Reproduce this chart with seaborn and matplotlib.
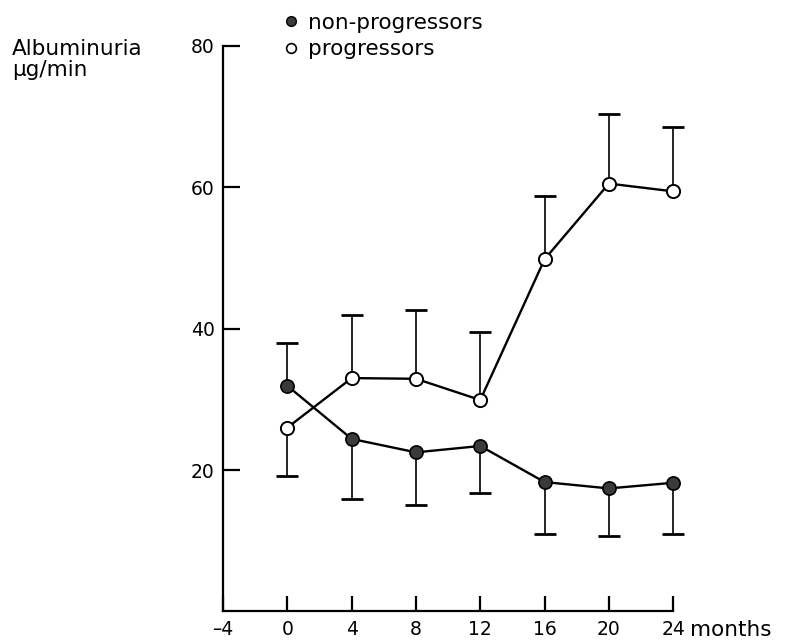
import numpy as np
import pandas as pd
import matplotlib
matplotlib.use("Agg")
import matplotlib.pyplot as plt
from matplotlib.lines import Line2D
import seaborn as sns

# values
months = [0, 4, 8, 12, 16, 20, 24]
nonprog_mean = [31.9, 24.4, 22.5, 23.4, 18.3, 17.4, 18.2]
nonprog_err_up = [6.0, 0, 0, 0, 0, 0, 0]
nonprog_err_down = [0, 8.5, 7.5, 6.6, 7.4, 6.7, 7.2]
prog_mean = [26.0, 33.0, 32.9, 29.9, 49.8, 60.5, 59.4]
prog_err_up = [0, 8.9, 9.7, 9.6, 8.9, 9.9, 9.1]
prog_err_down = [6.9, 0, 0, 0, 0, 0, 0]
xticks = [-4, 0, 4, 8, 12, 16, 20, 24]
yticks = [20, 40, 60, 80]

df = pd.DataFrame({
    "month": months * 2,
    "value": nonprog_mean + prog_mean,
    "group": ["non-progressors"] * 7 + ["progressors"] * 7,
})

sns.set_style("ticks", {"axes.edgecolor": "black", "text.color": "black",
                        "xtick.color": "black", "ytick.color": "black"})
plt.rcParams["font.family"] = ["DejaVu Sans"]
plt.rcParams["font.size"] = 13.5
label_size = 15.5

fig = plt.figure(figsize=(7.94, 6.43), dpi=100)
ax = fig.add_axes([0.281, 0.049, 0.5668, 0.880])

# error bars: stems plus caps, one side only
def draw_err(x, y, up, down):
    x = np.array(x, dtype=float)
    y = np.array(y, dtype=float)
    up = np.array(up, dtype=float)
    down = np.array(down, dtype=float)
    for err, sign in ((up, 1), (down, -1)):
        m = err > 0
        ends = y[m] + sign * err[m]
        ax.vlines(x[m], y[m], ends, color="black", lw=1.2, zorder=1,
                  clip_on=False)
        ax.plot(x[m], ends, ls="none", marker="_", ms=16, mew=2.0,
                color="black", zorder=1, clip_on=False)

draw_err(months, nonprog_mean, nonprog_err_up, nonprog_err_down)
draw_err(months, prog_mean, prog_err_up, prog_err_down)

sub = df[df.group == "non-progressors"]
sns.lineplot(data=sub, x="month", y="value", ax=ax, color="black", lw=1.7,
             marker="o", ms=9.5, mfc="#3a3a3a", mec="black", mew=1.2,
             zorder=3, legend=False, clip_on=False)
sub = df[df.group == "progressors"]
sns.lineplot(data=sub, x="month", y="value", ax=ax, color="black", lw=1.7,
             marker="o", ms=9.5, mfc="white", mec="black", mew=1.4,
             zorder=3, legend=False, clip_on=False)

ax.set_xlim(-4, 24)
ax.set_ylim(0, 80)
ax.set_xticks(xticks)
ax.set_xticklabels([str(t).replace("-", "\u2013") for t in xticks])
ax.set_yticks(yticks)
ax.set_xlabel("")
ax.set_ylabel("")
sns.despine(ax=ax)
for s in ("left", "bottom"):
    ax.spines[s].set_linewidth(1.6)
ax.tick_params(axis="y", direction="in", length=12, width=1.6, pad=6)
ax.tick_params(axis="x", direction="in", length=11, width=1.6, pad=6)

ax.annotate("months", xy=(1, 0), xycoords="axes fraction", xytext=(12, -6),
            textcoords="offset points", ha="left", va="top",
            fontsize=label_size)

fig.text(0.015, 0.924, "Albuminuria", ha="left", va="center",
         fontsize=label_size)
fig.text(0.015, 0.891, "\u00b5g/min", ha="left", va="center",
         fontsize=label_size)

handles = [
    Line2D([], [], ls="none", marker="o", ms=7, mfc="#3a3a3a", mec="black"),
    Line2D([], [], ls="none", marker="o", ms=7, mfc="white", mec="black", mew=1.2),
]
fig.legend(handles, ["non-progressors", "progressors"], loc="upper left",
           bbox_to_anchor=(0.358, 1.0 - 13 / 643), frameon=False,
           handlelength=0.6, handletextpad=0.5, labelspacing=0.3,
           borderpad=0, borderaxespad=0, fontsize=label_size)

fig.savefig("out.png", dpi=100, facecolor="white")
